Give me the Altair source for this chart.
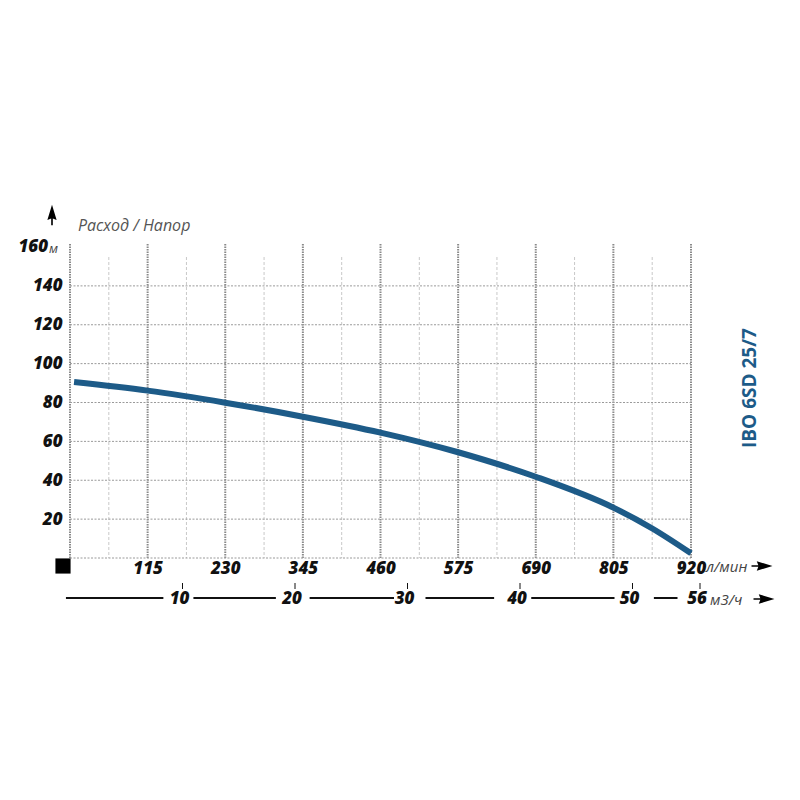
import altair as alt
import pandas as pd

# ---- data ----
flow_lpm = [6, 115, 230, 345, 460, 575, 690, 805, 862, 920]
head_m = [90.5, 86.1, 79.9, 72.7, 64.5, 54.4, 41.8, 25.9, 15.3, 2.4]

lpm_ticks = [115, 230, 345, 460, 575, 690, 805, 920]
head_ticks = [20, 40, 60, 80, 100, 120, 140]
m3h_ticks = [10, 20, 30, 40, 50, 56]

major_x = [0, 115, 230, 345, 460, 575, 690, 805, 920]
minor_x = [57.5, 172.5, 287.5, 402.5, 517.5, 632.5, 747.5, 862.5]
h_grid = [0, 20, 40, 60, 80, 100, 120, 140]

# m3/h line segments between the labels
seg_start = [-0.36, 10.97, 21.3, 31.6, 41.0, 51.9]
seg_end = [8.3, 18.3, 28.8, 37.7, 48.4, 54.0]

title_text = "Расход / Напор"
model_text = "IBO 6SD 25/7"

W, H = 621, 311
FONT = "Open Sans"
BLUE = "#1d5b88"
LPM_PER_M3H = 1000 / 60
LW = 800

curve_df = pd.DataFrame({"q": flow_lpm, "h": head_m})
major_df = pd.DataFrame({"q": major_x})
minor_df = pd.DataFrame({"q": minor_x})
hgrid_df = pd.DataFrame({"h": h_grid})
seg_df = pd.DataFrame({"a": seg_start, "b": seg_end})
m3h_df = pd.DataFrame({"m": m3h_ticks, "t": [str(v) for v in m3h_ticks]})
one = pd.DataFrame({"k": [0]})

xs = alt.Scale(domain=[0, 920], nice=False, zero=False)
ys = alt.Scale(domain=[0, 160], nice=False)

x_axis = alt.Axis(
    values=lpm_ticks, orient="bottom", domain=False, ticks=False, grid=False,
    labelFont=FONT, labelFontSize=17, labelFontWeight=LW, labelFontStyle="italic",
    labelColor="#111111", labelPadding=2, title=None, labelFlush=False, labelOverlap=False)
y_axis = alt.Axis(
    values=head_ticks, orient="left", domain=False, ticks=False, grid=False,
    labelFont=FONT, labelFontSize=17, labelFontWeight=LW, labelFontStyle="italic",
    labelColor="#111111", labelPadding=8, title=None)


def X(field):
    return alt.X(field, type="quantitative", scale=xs, axis=x_axis)


def Y(field):
    return alt.Y(field, type="quantitative", scale=ys, axis=y_axis)


major = alt.Chart(major_df).mark_rule(color="#8a8a8a", strokeWidth=2, strokeDash=[1.5, 1]).encode(
    x=X("q"), y=alt.value(-3), y2=alt.value(H))
minor = alt.Chart(minor_df).mark_rule(color="#c8c8c8", strokeWidth=1, strokeDash=[3, 2]).encode(
    x=X("q"), y=alt.value(10), y2=alt.value(H))
hgrid = alt.Chart(hgrid_df).mark_rule(color="#9a9a9a", strokeWidth=1, strokeDash=[2, 1.5]).encode(
    x=alt.value(0), x2=alt.value(W), y=Y("h"))

curve = alt.Chart(curve_df).mark_line(color=BLUE, strokeWidth=6, interpolate="monotone").encode(
    x=X("q"), y=Y("h"))

lab160 = alt.Chart(one).mark_text(font=FONT, fontSize=17, fontWeight=LW, fontStyle="italic",
                                  align="right", baseline="middle", color="#111111").encode(
    x=alt.value(-22), y=alt.value(0), text=alt.value("160"))
lab_m = alt.Chart(one).mark_text(font=FONT, fontSize=13, fontStyle="italic",
                                 align="left", baseline="middle", dy=2, color="#444444").encode(
    x=alt.value(-21), y=alt.value(0), text=alt.value("м"))

title = alt.Chart(one).mark_text(font=FONT, fontSize=16, fontStyle="italic", align="left",
                                 baseline="alphabetic", color="#555555").encode(
    x=alt.value(8), y=alt.value(-16), text=alt.value(title_text))

lpm_unit = alt.Chart(one).mark_text(font=FONT, fontSize=15, fontStyle="italic", align="left",
                                    baseline="middle", color="#444444").encode(
    x=alt.value(636), y=alt.value(320), text=alt.value("л/мин"))
m3h_unit = alt.Chart(one).mark_text(font=FONT, fontSize=15, fontStyle="italic", align="left",
                                    baseline="middle", color="#444444").encode(
    x=alt.value(640), y=alt.value(353), text=alt.value("м3/ч"))

# m3/h secondary scale drawn in l/min units (1 m3/h = 1000/60 l/min)
segs = alt.Chart(seg_df).transform_calculate(
    qa=f"datum.a * {LPM_PER_M3H}", qb=f"datum.b * {LPM_PER_M3H}"
).mark_rule(color="#111111", strokeWidth=2).encode(
    x=X("qa"), x2="qb:Q", y=alt.value(351))
m3h_ticks_mark = alt.Chart(m3h_df).transform_calculate(
    q=f"datum.m * {LPM_PER_M3H}"
).mark_rule(color="#111111", strokeWidth=1).encode(
    x=X("q"), y=alt.value(336), y2=alt.value(342))
m3h_labels = alt.Chart(m3h_df).transform_calculate(
    q=f"datum.m * {LPM_PER_M3H}"
).mark_text(font=FONT, fontSize=17, fontWeight=LW, fontStyle="italic", align="center",
            baseline="middle", color="#111111", dx=-3).encode(
    x=X("q"), y=alt.value(352), text="t:N")

arrow_path = "M-1,-0.08 L-0.35,-0.08 L-0.5,-0.45 L1,0 L-0.5,0.45 L-0.35,0.08 L-1,0.08 Z"
arrow_r1 = alt.Chart(one).mark_point(shape=arrow_path, filled=True, color="#000000", opacity=1,
                                     size=440).encode(x=alt.value(692), y=alt.value(319))
arrow_r2 = alt.Chart(one).mark_point(shape=arrow_path, filled=True, color="#000000", opacity=1,
                                     size=440).encode(x=alt.value(694), y=alt.value(352))
arrow_up = alt.Chart(one).mark_point(shape=arrow_path, filled=True, color="#000000", opacity=1,
                                     size=420, angle=270).encode(x=alt.value(-18), y=alt.value(-32))
square = alt.Chart(one).mark_square(color="#000000", filled=True, opacity=1, size=230).encode(
    x=alt.value(-7), y=alt.value(319))

model = alt.Chart(one).mark_text(font=FONT, fontSize=19, fontWeight="bold", angle=270,
                                 align="center", baseline="middle", color=BLUE).encode(
    x=alt.value(680), y=alt.value(141), text=alt.value(model_text))

chart = alt.layer(
    minor, major, hgrid, curve, segs, m3h_ticks_mark, m3h_labels,
    lab160, lab_m, title, lpm_unit, m3h_unit, arrow_r1, arrow_r2, arrow_up, square, model
).properties(
    width=W, height=H,
    autosize=alt.AutoSizeParams(type="none"),
    padding={"left": 62, "top": 239, "right": 97, "bottom": 230},
    background="white",
).configure_view(stroke=None)

chart.save("out.html", embed_options={"renderer": "svg", "actions": False})
